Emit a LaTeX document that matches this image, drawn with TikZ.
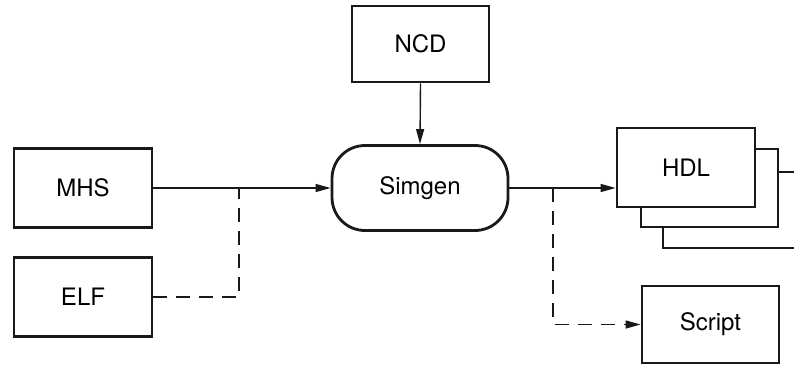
\documentclass[tikz,border=0pt]{standalone}
\usepackage{fontspec}
\setmainfont{TeX Gyre Heros}
\usetikzlibrary{arrows.meta,calc}
\tikzset{
  box/.style={draw=black!90, line width=2.8pt, fill=white, inner sep=0pt, font=\fontsize{24}{28}\selectfont},
  rbox/.style={box, rounded corners=33pt},
  conn/.style={line width=1.4pt, draw=black!90},
  arr/.style={conn, -{Triangle[length=15pt,width=8pt]}},
  dconn/.style={conn, dash pattern=on 14pt off 9pt},
  darr/.style={dconn, -{Triangle[length=15pt,width=8pt]}},
}
\begin{document}
\begin{tikzpicture}[x=1pt,y=-1pt]
\useasboundingbox (0,0) rectangle (794,364);
\begin{scope}
\clip (0,0) rectangle (794,364);
\node[box, minimum width=138pt, minimum height=76pt] (hdl3) at (732,210) {};
\end{scope}
\node[box, minimum width=137pt, minimum height=78pt] (hdl2) at (709.5,188) {};
\node[box, minimum width=138pt, minimum height=79pt] (hdl) at (686,167.5) {HDL};
\node[box, minimum width=138pt, minimum height=79pt] (mhs) at (83,188) {MHS};
\node[box, minimum width=138pt, minimum height=79pt] (elf) at (83,297) {ELF};
\node[box, minimum width=137pt, minimum height=76pt] (ncd) at (420.5,44) {NCD};
\node[rbox, minimum width=176pt, minimum height=85pt] (sim) at (420,188) {Simgen};
\node[box, minimum width=137pt, minimum height=77pt] (script) at (710.5,324.5) {Script};
\coordinate (j1) at (239,188);
\coordinate (j2) at (553,188);
\draw[arr] (mhs.east) -- (sim.west);
\draw[dconn] (elf.east) -| (j1);
\draw[arr] (ncd.south) -- (sim.north);
\draw[arr] (sim.east) -- (sim.east -| hdl.west);
\draw[darr] (j2) |- (script.west);
\end{tikzpicture}
\end{document}
